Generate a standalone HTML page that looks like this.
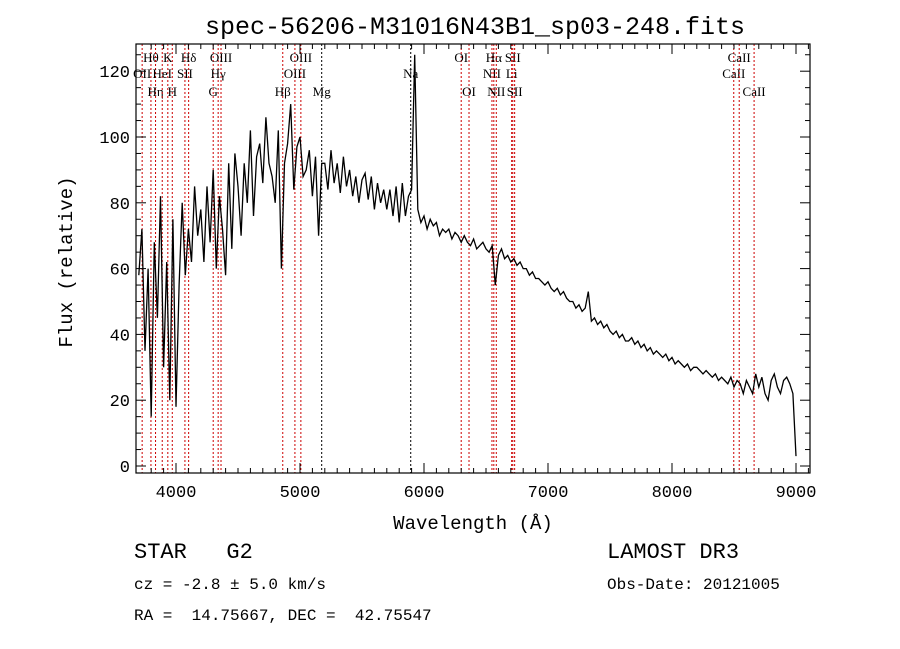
<!DOCTYPE html>
<html><head><meta charset="utf-8"><style>
html,body{margin:0;padding:0;background:#fff;}
svg{display:block;}
text{font-family:"Liberation Serif",serif;}
.mono{font-family:"Liberation Mono",monospace;}
</style></head><body>
<svg id="chart" width="900" height="649" viewBox="0 0 900 649" xmlns="http://www.w3.org/2000/svg">
<rect width="900" height="649" fill="#fff"/>
<text x="475" y="34" text-anchor="middle" class="mono" font-size="25">spec-56206-M31016N43B1_sp03-248.fits</text>
<g id="lines"></g>
<path id="spec" fill="none" stroke="#000" stroke-width="1.3"/>
<rect x="136" y="44" width="674" height="429" fill="none" stroke="#000" stroke-width="1.2"/>
<g id="axes"></g>
<text x="473" y="529" text-anchor="middle" class="mono" font-size="19">Wavelength (Å)</text>
<text x="72" y="262" text-anchor="middle" class="mono" font-size="19" transform="rotate(-90 72 262)">Flux (relative)</text>
<text x="134" y="558" font-size="22" class="mono" xml:space="preserve">STAR   G2</text>
<text x="134" y="589" class="mono" font-size="16">cz = -2.8 ± 5.0 km/s</text>
<text x="134" y="620" class="mono" font-size="16" xml:space="preserve">RA =  14.75667, DEC =  42.75547</text>
<text x="607" y="558" font-size="22" class="mono">LAMOST DR3</text>
<text x="607" y="589" class="mono" font-size="16">Obs-Date: 20121005</text>
</svg>
<script>
const wlStart = 3700, wlStep = 25;
const flux = [
58,72,35,60,15,68,45,82,30,62,20,75,18,55,80,58,72,62,85,70,
78,62,85,68,90,60,82,72,58,92,66,95,85,70,92,80,102,76,94,98,
86,106,92,88,80,102,60,92,98,110,84,97,100,88,90,96,82,94,70,92,
92,84,96,86,92,83,94,85,90,82,88,80,87,89,81,88,78,86,80,84,
78,84,76,85,74,86,76,82,84,125,78,74,76,72,75,73,74,70,72,71,
72,69,71,70,68,70,68,67,69,66,67,68,66,65,67,55,64,66,63,64,
62,63,61,62,60,60,58,59,57,57,56,55,56,54,53,54,52,53,51,50,
50,48,49,47,48,53,44,45,43,44,42,43,41,40,41,39,40,38,38,39,
37,38,36,37,35,36,34,35,34,33,34,32,33,31,32,31,30,31,29,30,
30,29,28,29,28,27,28,26,27,26,25,27,24,26,25,22,26,24,22,28,
24,27,22,20,26,28,24,22,26,27,25,22,3];
const lineWl = [3727,3798,3835,3889,3934,3970,4072,4102,4300,4340,4363,4861,4959,5007,5175,5893,6300,6363,6548,6563,6583,6707,6716,6731,8498,8542,8662];
const lineLabel = ["OII","Hθ","Hη","HeI","K","H","SII","Hδ","G","Hγ","OIII","Hβ","OIII","OIII","Mg","Na","OI","OI","NII","Hα","NII","Li","SII","SII","CaII","CaII","CaII"];
const lineRow = [2,1,3,2,1,3,2,1,3,2,1,3,2,1,3,2,1,3,2,1,3,2,1,3,2,1,3];
const xTicks = [4000,5000,6000,7000,8000,9000];
const yTicks = [0,20,40,60,80,100,120];

const X = w => 176 + (w - 4000) * 0.124;
const Y = f => 466 - f * 3.29;
const NS = "http://www.w3.org/2000/svg";
function mk(tag, attrs, parent){const e=document.createElementNS(NS,tag);for(const k in attrs)e.setAttribute(k,attrs[k]);parent.appendChild(e);return e;}

let d="";
flux.forEach((f,i)=>{d+=(i?"L":"M")+X(wlStart+i*wlStep).toFixed(1)+","+Y(f).toFixed(1);});
document.getElementById("spec").setAttribute("d",d);

const lg=document.getElementById("lines");
const rowY={1:62,2:78,3:96};
lineWl.forEach((w,i)=>{
  const black = lineLabel[i]==="Mg"||lineLabel[i]==="Na";
  const l=mk("line",{x1:X(w),x2:X(w),y1:44,y2:473,stroke:black?"#000":"#c00","stroke-width":1,"stroke-dasharray":"2,2"},lg);
  
  
  const t=mk("text",{x:X(w),y:rowY[lineRow[i]],"text-anchor":"middle","font-size":13},lg);
  t.textContent=lineLabel[i];
  
  
});

const ag=document.getElementById("axes");
for(let w=3800;w<=9100;w+=100){
  const major=w%1000===0, len=major?10:5;
  mk("line",{x1:X(w),x2:X(w),y1:473,y2:473-len,stroke:"#000"},ag);
  mk("line",{x1:X(w),x2:X(w),y1:44,y2:44+len,stroke:"#000"},ag);
}
xTicks.forEach(w=>{
  const t=mk("text",{x:X(w),y:497,"text-anchor":"middle","font-size":17,"class":"mono"},ag);
  t.textContent=w;
  
  
});
for(let f=0;f<=125;f+=5){
  const major=f%20===0, len=major?10:5;
  mk("line",{x1:136,x2:136+len,y1:Y(f),y2:Y(f),stroke:"#000"},ag);
  mk("line",{x1:810,x2:810-len,y1:Y(f),y2:Y(f),stroke:"#000"},ag);
}
yTicks.forEach(f=>{
  const t=mk("text",{x:130,y:Y(f)+6,"text-anchor":"end","font-size":17,"class":"mono"},ag);
  t.textContent=f;
  
  
});
</script>
</body></html>
